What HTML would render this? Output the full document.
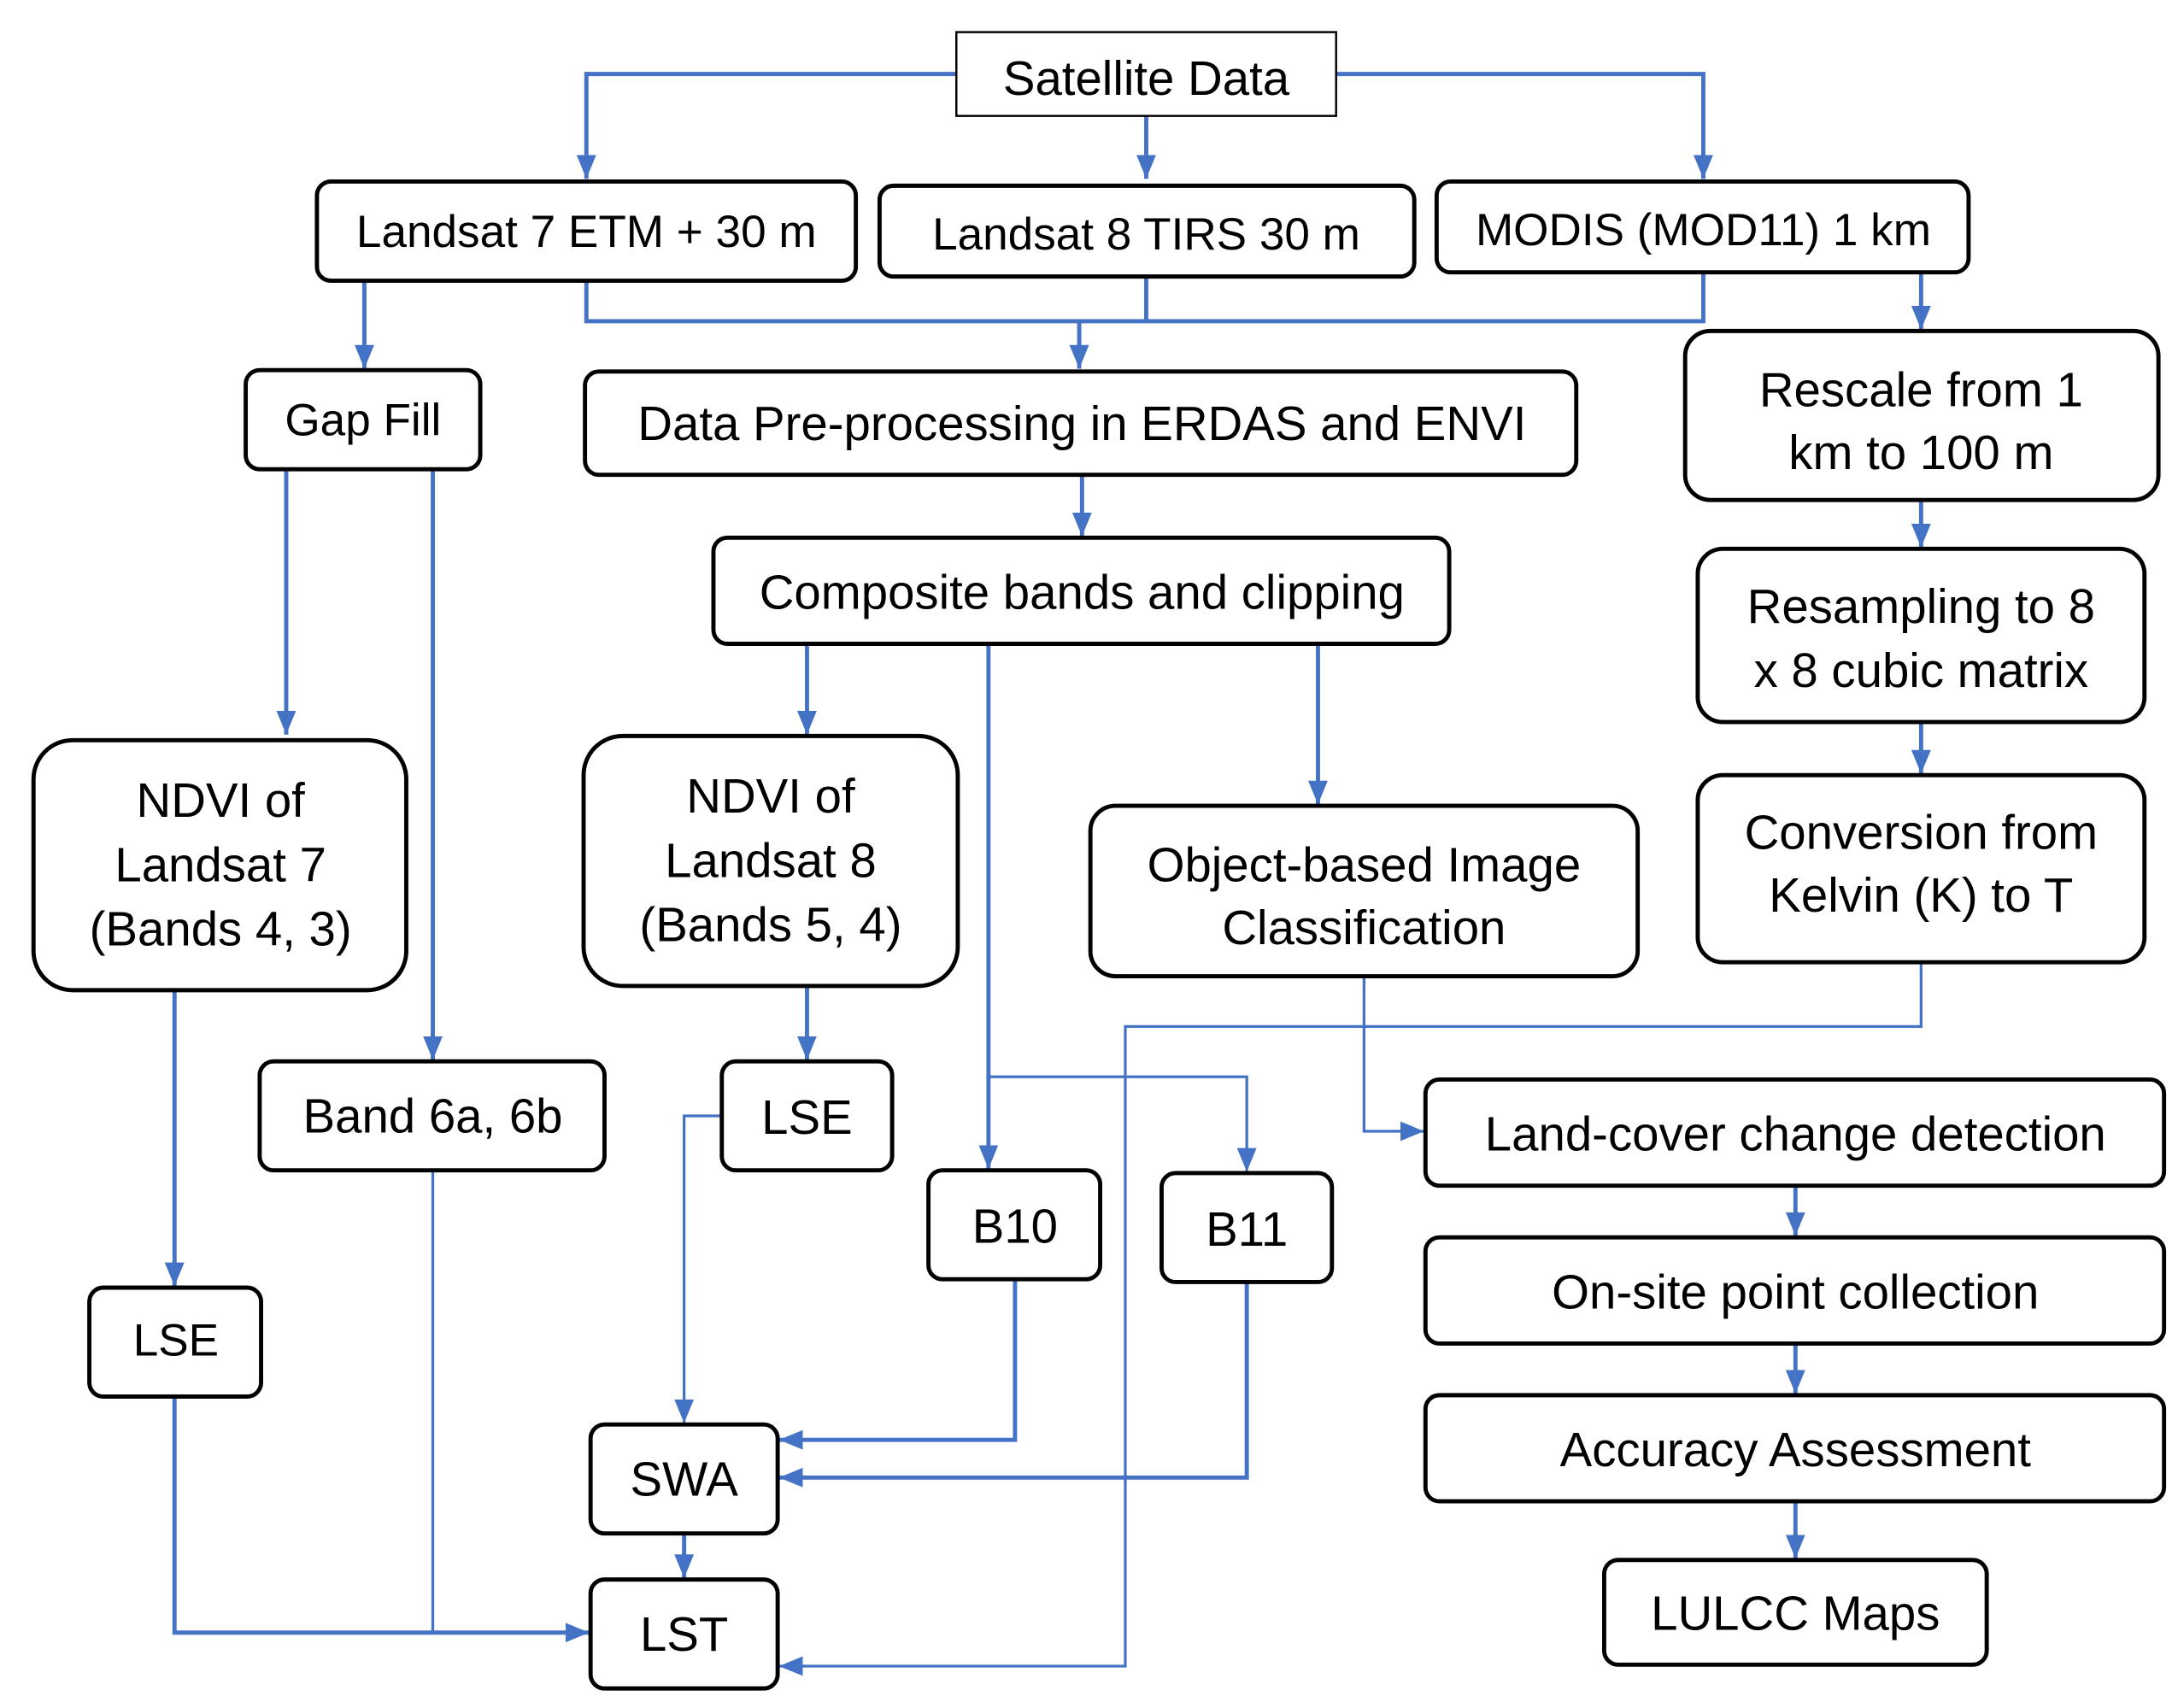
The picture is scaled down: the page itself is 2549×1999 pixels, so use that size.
<!DOCTYPE html>
<html><head><meta charset="utf-8"><style>html,body{margin:0;padding:0;background:#fff}svg{display:block}</style></head>
<body>
<svg width="2549" height="1999" viewBox="0 0 1560 1223" preserveAspectRatio="none" xmlns="http://www.w3.org/2000/svg">
<defs>
<marker id="b" markerWidth="18" markerHeight="18" refX="17" refY="9" orient="auto" markerUnits="userSpaceOnUse"><path d="M0,2 L17,9 L0,16 z" fill="#4472C4"/></marker>
</defs>
<g fill="none" stroke="#4472C4" stroke-width="3">
<path d="M685,53 H420 V128" marker-end="url(#b)"/>
<path d="M821,83 V128" marker-end="url(#b)"/>
<path d="M957,53 H1220 V128" marker-end="url(#b)"/>
<path d="M420,201 V230 H1220 V195"/>
<path d="M821,198 V230"/>
<path d="M773,230 V264" marker-end="url(#b)"/>
<path d="M261,201 V264" marker-end="url(#b)"/>
<path d="M1376,195 V236" marker-end="url(#b)"/>
<path d="M1376,358 V392" marker-end="url(#b)"/>
<path d="M1376,517 V554" marker-end="url(#b)"/>
<path d="M775,340 V384" marker-end="url(#b)"/>
<path d="M205,336 V526" marker-end="url(#b)"/>
<path d="M310,336 V759" marker-end="url(#b)"/>
<path d="M125,709 V921" marker-end="url(#b)"/>
<path d="M578,461 V526" marker-end="url(#b)"/>
<path d="M708,461 V837" marker-end="url(#b)"/>
<path d="M944,461 V576" marker-end="url(#b)"/>
<path d="M578,706 V759" marker-end="url(#b)"/>
<path d="M1286,849 V885" marker-end="url(#b)"/>
<path d="M1286,962 V998" marker-end="url(#b)"/>
<path d="M1286,1075 V1116" marker-end="url(#b)"/>
<path d="M727,916 V1031 H558" marker-end="url(#b)"/>
<path d="M893,918 V1058 H558" marker-end="url(#b)"/>
<path d="M490,1098 V1130" marker-end="url(#b)"/>
<path d="M125,1000 V1169 H422" marker-end="url(#b)"/>
</g>
<g fill="none" stroke="#4472C4" stroke-width="2">
<path d="M708,771 H893 V839" marker-end="url(#b)"/>
<path d="M977,699 V810 H1020" marker-end="url(#b)"/>
<path d="M517,799 H490 V1019" marker-end="url(#b)"/>
<path d="M310,838 V1169"/>
<path d="M1376,689 V735 H806 V1193 H558" marker-end="url(#b)"/>
</g>
<g fill="#fff" stroke="#000" stroke-width="3">
<rect x="685" y="23" width="272" height="60" stroke-width="1.5"/>
<rect x="227" y="130" width="386" height="71" rx="10"/>
<rect x="630" y="133" width="383" height="65" rx="10"/>
<rect x="1029" y="130" width="381" height="65" rx="10"/>
<rect x="176" y="265" width="168" height="71" rx="10"/>
<rect x="419" y="266" width="710" height="74" rx="10"/>
<rect x="1207" y="237" width="339" height="121" rx="18"/>
<rect x="1216" y="393" width="320" height="124" rx="18"/>
<rect x="1216" y="555" width="320" height="134" rx="18"/>
<rect x="511" y="385" width="527" height="76" rx="10"/>
<rect x="24" y="530" width="267" height="179" rx="28"/>
<rect x="186" y="760" width="247" height="78" rx="10"/>
<rect x="64" y="922" width="123" height="78" rx="10"/>
<rect x="418" y="527" width="268" height="179" rx="28"/>
<rect x="517" y="760" width="122" height="78" rx="10"/>
<rect x="665" y="838" width="123" height="78" rx="10"/>
<rect x="832" y="840" width="122" height="78" rx="10"/>
<rect x="781" y="577" width="392" height="122" rx="18"/>
<rect x="1021" y="773" width="529" height="76" rx="10"/>
<rect x="1021" y="886" width="529" height="76" rx="10"/>
<rect x="1021" y="999" width="529" height="76" rx="10"/>
<rect x="1149" y="1117" width="274" height="75" rx="10"/>
<rect x="423" y="1020" width="134" height="78" rx="10"/>
<rect x="423" y="1131" width="134" height="78" rx="10"/>
</g>
<g font-family="Liberation Sans, sans-serif" font-size="34.5" fill="#000" text-anchor="middle" dominant-baseline="central">
<text x="821" y="56" font-size="34.5">Satellite Data</text>
<text x="420" y="166" font-size="32.5">Landsat 7 ETM + 30 m</text>
<text x="821" y="168" font-size="32.5">Landsat 8 TIRS 30 m</text>
<text x="1220" y="165" font-size="32.5">MODIS (MOD11) 1 km</text>
<text x="260" y="301" font-size="32.5">Gap Fill</text>
<text x="775" y="303">Data Pre-processing in ERDAS and ENVI</text>
<text x="1376" y="279">Rescale from 1</text>
<text x="1376" y="324">km to 100 m</text>
<text x="1376" y="434">Resampling to 8</text>
<text x="1376" y="480">x 8 cubic matrix</text>
<text x="1376" y="596">Conversion from</text>
<text x="1376" y="641">Kelvin (K) to T</text>
<text x="775" y="424">Composite bands and clipping</text>
<text x="158" y="573">NDVI of</text>
<text x="158" y="619">Landsat 7</text>
<text x="158" y="665">(Bands 4, 3)</text>
<text x="552" y="570">NDVI of</text>
<text x="552" y="616">Landsat 8</text>
<text x="552" y="662">(Bands 5, 4)</text>
<text x="310" y="799">Band 6a, 6b</text>
<text x="126" y="960" font-size="32.5">LSE</text>
<text x="578" y="800">LSE</text>
<text x="727" y="878">B10</text>
<text x="893" y="880">B11</text>
<text x="977" y="619">Object-based Image</text>
<text x="977" y="664">Classification</text>
<text x="1286" y="812">Land-cover change detection</text>
<text x="1286" y="925">On-site point collection</text>
<text x="1286" y="1038">Accuracy Assessment</text>
<text x="1286" y="1155">LULCC Maps</text>
<text x="490" y="1059">SWA</text>
<text x="490" y="1170">LST</text>
</g>
</svg>
</body></html>
